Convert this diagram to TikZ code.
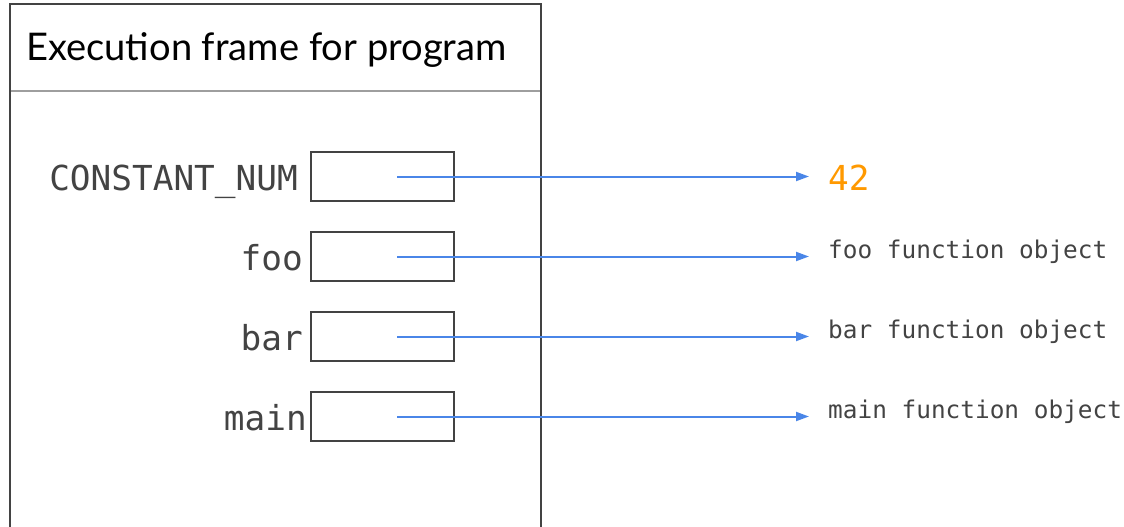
\documentclass[tikz,border=0pt]{standalone}
\usepackage{fontspec}
\setmainfont{Lato}
\newfontfamily\monofont{DejaVu Sans Mono}
\usetikzlibrary{arrows.meta}
\definecolor{framegray}{HTML}{434343}
\definecolor{divgray}{HTML}{9E9E9E}
\definecolor{arrowblue}{HTML}{4A86E8}
\definecolor{numorange}{HTML}{FF9900}
\tikzset{
  slot/.style={draw=framegray, line width=2pt, minimum width=143pt, minimum height=49pt, inner sep=0pt},
  varname/.style={anchor=base east, inner sep=0pt, text=framegray, font=\monofont\fontsize{34.4}{40}\selectfont},
  objlabel/.style={anchor=base west, inner sep=0pt, text=framegray, font=\monofont\fontsize{24.4}{29}\selectfont},
  ref/.style={draw=arrowblue, line width=2pt, -{Triangle[length=13pt,width=9pt]}, shorten <=14.5pt, shorten >=19pt},
}
\begin{document}
\begin{tikzpicture}[x=1pt,y=-1pt]
\useasboundingbox (0,0) rectangle (1124,527);
% frame
\draw[framegray, line width=2pt] (9.5,528) -- (9.5,4.5) -- (540.5,4.5) -- (540.5,528);
\draw[divgray, line width=2pt] (10.5,91) -- (539.5,91);
\node[anchor=base west, inner sep=0pt, font=\fontsize{38.1}{44}\selectfont] (title) at (26,60) {Execution frame for program};
% slots
\node[slot] (b1) at (382.5,176.5) {};
\node[slot] (b2) at (382.5,256.5) {};
\node[slot] (b3) at (382.5,336.5) {};
\node[slot] (b4) at (382.5,416.5) {};
% names
\node[varname] (n1) at (298,190) {CONSTANT\_NUM};
\node[varname] (n2) at (303,270) {foo};
\node[varname] (n3) at (303,350) {bar};
\node[varname] (n4) at (307,430) {main};
% targets
\node[anchor=base west, inner sep=0pt, text=numorange, font=\monofont\fontsize{34.4}{40}\selectfont] (t1) at (828,190) {42};
\node[objlabel] (t2) at (828,258) {foo function object};
\node[objlabel] (t3) at (828,338) {bar function object};
\node[objlabel] (t4) at (828,418) {main function object};
% arrows
\draw[ref] (b1.center) -- (b1.center -| t1.west);
\draw[ref] (b2.center) -- (b2.center -| t2.west);
\draw[ref] (b3.center) -- (b3.center -| t3.west);
\draw[ref] (b4.center) -- (b4.center -| t4.west);
\end{tikzpicture}
\end{document}
